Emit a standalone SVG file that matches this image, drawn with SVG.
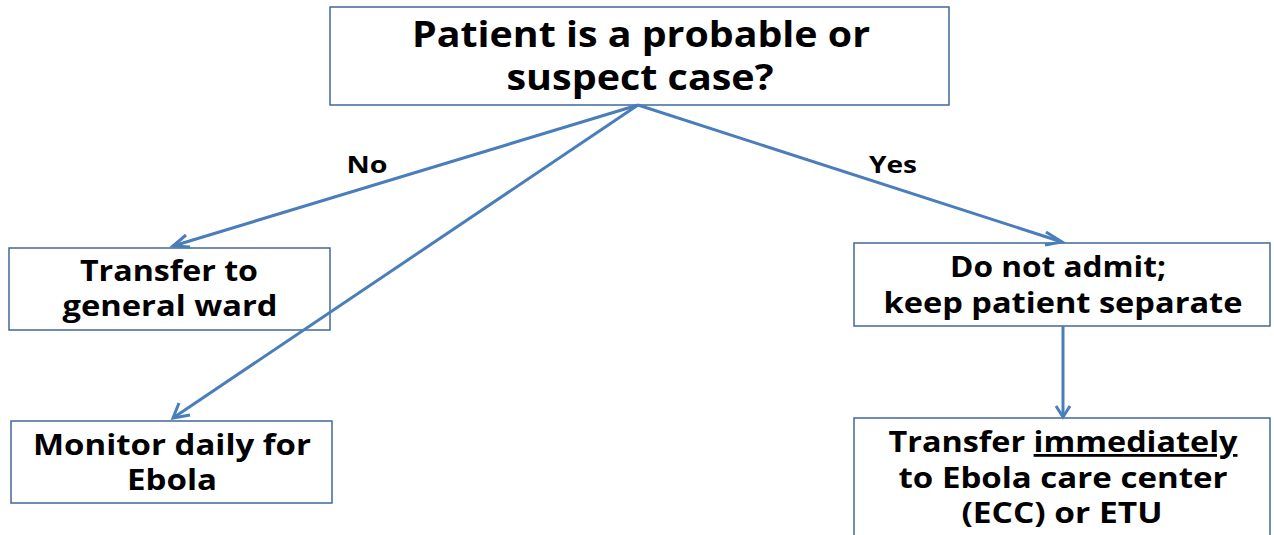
<svg xmlns="http://www.w3.org/2000/svg" width="1274" height="535" viewBox="0 0 1274 535">
<style>
.box{fill:#fff;stroke:#41679b;stroke-width:1.5}
.t{font-family:"Open Sans","Noto Sans",sans-serif;font-weight:bold;fill:#000;text-anchor:middle}
.ln{stroke:#4a7ebb;stroke-width:3;fill:none}
</style>
<rect width="1274" height="535" fill="#fff"/>
<g id="n-top">
<rect class="box" x="330" y="7" width="619" height="98"/>
<text class="t" x="641" y="47" font-size="35" textLength="458" lengthAdjust="spacingAndGlyphs">Patient is a probable or</text>
<text class="t" x="640" y="90" font-size="35" textLength="267" lengthAdjust="spacingAndGlyphs">suspect case?</text>
</g>
<g id="n-ward">
<rect class="box" x="9" y="248" width="321" height="82"/>
<text class="t" x="169" y="281" font-size="28" textLength="178" lengthAdjust="spacingAndGlyphs">Transfer to</text>
<text class="t" x="170" y="316" font-size="28" textLength="215" lengthAdjust="spacingAndGlyphs">general ward</text>
</g>
<g id="n-monitor">
<rect class="box" x="11" y="421" width="321" height="82"/>
<text class="t" x="172" y="455" font-size="28" textLength="278" lengthAdjust="spacingAndGlyphs">Monitor daily for</text>
<text class="t" x="172" y="490" font-size="28" textLength="90" lengthAdjust="spacingAndGlyphs">Ebola</text>
</g>
<g id="n-admit">
<rect class="box" x="854" y="243" width="416" height="83"/>
<text class="t" x="1058" y="277" font-size="28" textLength="216" lengthAdjust="spacingAndGlyphs">Do not admit;</text>
<text class="t" x="1063" y="313" font-size="28" textLength="359" lengthAdjust="spacingAndGlyphs">keep patient separate</text>
</g>
<g id="n-etu">
<rect class="box" x="854" y="418" width="416" height="130"/>
<text class="t" x="1063" y="452" font-size="28" textLength="349" lengthAdjust="spacingAndGlyphs">Transfer <tspan text-decoration="underline">immediately</tspan></text>
<text class="t" x="1063" y="488" font-size="28" textLength="329" lengthAdjust="spacingAndGlyphs">to Ebola care center</text>
<text class="t" x="1062" y="523" font-size="28" textLength="201" lengthAdjust="spacingAndGlyphs">(ECC) or ETU</text>
</g>
<g id="connectors">
<line class="ln" x1="638" y1="105" x2="173" y2="246"/>
<path class="ln" d="M186,235 L173,246 L190,247"/>
<line class="ln" x1="638" y1="105" x2="173" y2="418"/>
<path class="ln" d="M179,403 L173,418 L190,415"/>
<line class="ln" x1="638" y1="105" x2="1062" y2="242"/>
<path class="ln" d="M1046,232 L1062,242 L1045,245"/>
<line class="ln" x1="1063" y1="326" x2="1063" y2="417" stroke-width="3.5"/>
<path class="ln" d="M1056,406 L1063,417 L1070,406"/>
<text class="t" x="367" y="173" font-size="24" textLength="41" lengthAdjust="spacingAndGlyphs">No</text>
<text class="t" x="893" y="173" font-size="24" textLength="48" lengthAdjust="spacingAndGlyphs">Yes</text>
</g>
</svg>
